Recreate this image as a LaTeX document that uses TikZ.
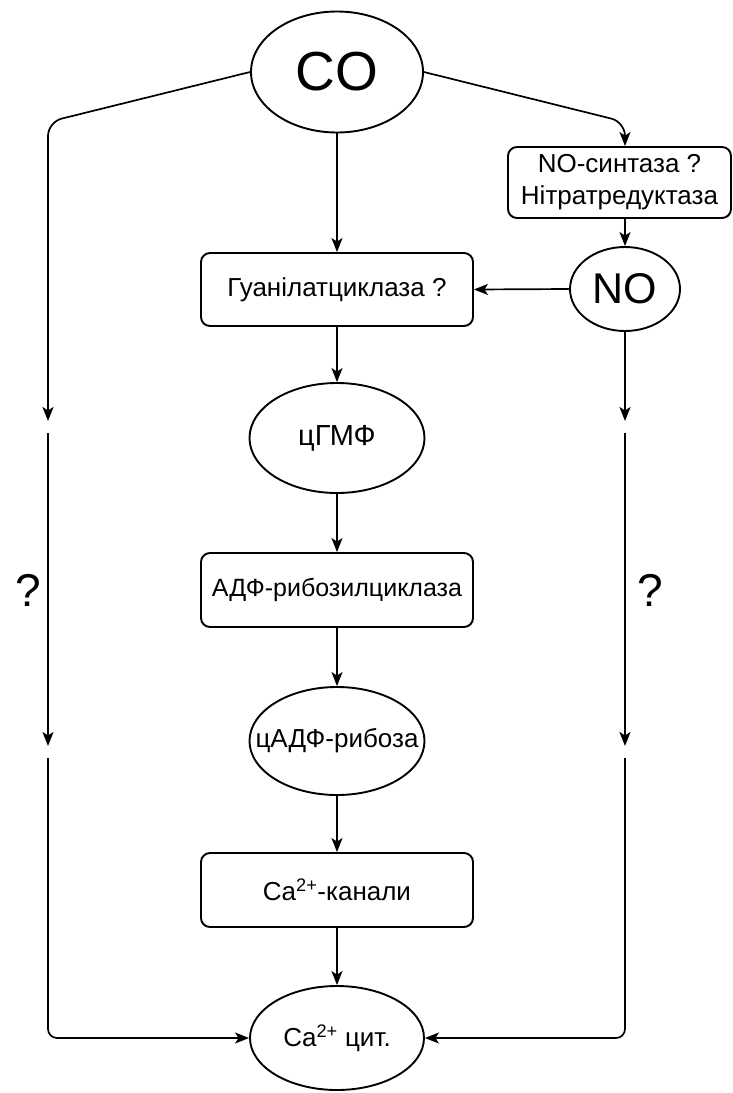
\documentclass[tikz,border=0pt]{standalone}
\usepackage{fontspec}
\setmainfont{Liberation Sans}
\usetikzlibrary{shapes.geometric,arrows.meta}
\begin{document}
\begin{tikzpicture}[x=1pt,y=-1pt,
  lw/.style={line width=1.7pt},
  arr/.style={lw,-{Stealth[length=14pt,width=11pt,inset=3.5pt]}},
  oval/.style={ellipse,draw,line width=1.9pt,inner sep=0pt},
  rbox/.style={rectangle,draw,line width=1.9pt,rounded corners=9pt,inner sep=0pt,align=center},
  txt/.style={font=\fontsize{26}{32}\selectfont},
  qmark/.style={font=\fontsize{46}{50}\selectfont}
]
\useasboundingbox (0,0) rectangle (733,1093);
% nodes
\node[oval,minimum width=172pt,minimum height=121pt,font=\fontsize{55}{60}\selectfont] (co) at (337,72) {CO};
\node[rbox,txt,minimum width=223pt,minimum height=71pt] (nos) at (619.5,182.5) {NO-синтаза ?\\Нітратредуктаза};
\node[oval,minimum width=110pt,minimum height=84pt,font=\fontsize{43}{48}\selectfont] (no) at (625,289) {NO};
\node[rbox,txt,minimum width=272pt,minimum height=73pt] (gc) at (337,289.5) {Гуанілатциклаза ?};
\node[oval,minimum width=175pt,minimum height=110pt,font=\fontsize{29}{34}\selectfont] (cgmp) at (337,438) {цГМФ};
\node[rbox,minimum width=272pt,minimum height=74pt,font=\fontsize{25}{30}\selectfont] (adprc) at (337,590) {АДФ-рибозилциклаза};
\node[oval,txt,minimum width=175pt,minimum height=108pt] (cadpr) at (337,741) {\makebox[0pt]{цАДФ-рибоза}};
\node[rbox,txt,minimum width=272pt,minimum height=74pt] (cach) at (337,890) {Ca\textsuperscript{2+}-канали};
\node[oval,txt,minimum width=174pt,minimum height=104pt] (cacyt) at (337,1038) {Ca\textsuperscript{2+} цит.};
\node[qmark] (ql) at (28,590) {?};
\node[qmark] (qr) at (650,590) {?};
% coordinates for gaps
\coordinate (lc) at (48,122);
\coordinate (l1) at (48,421);
\coordinate (l2s) at (48,433);
\coordinate (l2) at (48,746);
\coordinate (l3s) at (48,758);
\coordinate (rc) at (625,122);
\coordinate (r1) at (625,421);
\coordinate (r2s) at (625,433);
\coordinate (r2) at (625,746);
\coordinate (r3s) at (625,758);
% connectors
\draw[arr,rounded corners=14pt] (co.west) -- (lc) -- (l1);
\draw[arr] (l2s) -- (l2);
\draw[arr,rounded corners=9pt] (l3s) |- (cacyt.west);
\draw[arr,rounded corners=14pt] (co.east) -- (rc) -- (nos.north -| rc);
\draw[arr] (nos.south -| no.north) -- (no.north);
\draw[arr] (no.south) -- (r1);
\draw[arr] (r2s) -- (r2);
\draw[arr,rounded corners=9pt] (r3s) |- (cacyt.east);
\draw[arr] (no.west) -- (gc.east);
\draw[arr] (co.south) -- (gc.north);
\draw[arr] (gc.south) -- (cgmp.north);
\draw[arr] (cgmp.south) -- (adprc.north);
\draw[arr] (adprc.south) -- (cadpr.north);
\draw[arr] (cadpr.south) -- (cach.north);
\draw[arr] (cach.south) -- (cacyt.north);
\end{tikzpicture}
\end{document}
